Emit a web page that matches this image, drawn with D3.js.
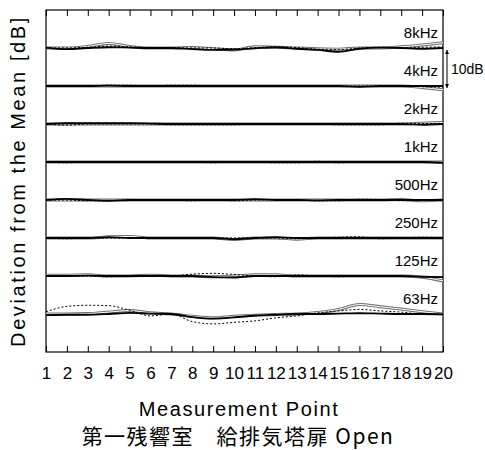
<!DOCTYPE html>
<html>
<head>
<meta charset="utf-8">
<script src="https://cdn.jsdelivr.net/npm/d3@7"></script>
<style>
  body { margin: 0; background: #fff; }
  svg text { font-family: "Liberation Sans", Arial, sans-serif; fill: #000; }
</style>
</head>
<body>
<div id="chart"></div>
<script>
// measurement points (x axis)
const points = [1, 2, 3, 4, 5, 6, 7, 8, 9, 10, 11, 12, 13, 14, 15, 16, 17, 18, 19, 20];

// octave bands, top to bottom, and their offset in dB on the stacked axis
const bands = ["8kHz", "4kHz", "2kHz", "1kHz", "500Hz", "250Hz", "125Hz", "63Hz"];
const bandOffsets = [80, 70, 60, 50, 40, 30, 20, 10];

// deviation from the mean [dB], one row per band
const seriesSolid = [
  [0.1, -0.3, 0, 0.2, 0.1, 0, 0, -0.3, -0.5, -0.4, -0.1, 0.2, -0.2, -0.5, -1.0, -0.2, 0.1, 0, -0.2, 0],
  [0, 0, 0, 0.1, 0, 0, 0, 0, 0, 0, 0, 0, 0, 0, 0, -0.2, 0, 0, 0, 0],
  [0, 0.2, 0.2, 0.2, 0.2, 0.1, 0, 0, 0, 0, 0, 0, 0, 0, 0, 0, 0, 0, -0.2, 0],
  [0, 0, 0, 0, 0, 0, 0, 0, 0, 0, 0, 0, 0, 0, 0, 0, 0, 0, 0, -0.2],
  [0, 0.3, 0, -0.2, 0, 0, 0, 0, 0, 0, 0.2, 0, 0, -0.1, 0, 0, 0, 0, 0, 0],
  [0, 0, 0, 0.2, 0, 0, 0, 0, 0, -0.3, 0, 0.2, 0, 0, 0, 0, 0, 0, 0, 0],
  [0, 0, 0.1, 0, 0, 0, 0, 0, -0.3, -0.4, 0, 0, 0, 0, 0, 0, 0, 0, -0.2, -0.3],
  [-0.3, -0.2, -0.2, 0, 0.3, 0.1, 0, -0.8, -1.2, -0.9, -0.4, -0.2, 0, 0, 0.1, 0.2, 0.1, 0, 0, -0.1]
];
const seriesDotted = [
  [0, 0, 0.2, 0.5, 0.3, 0, 0.1, 0, 0, -0.2, 0.1, 0.3, 0.1, -0.3, -0.4, 0, 0.2, 0, 0.2, 0.3],
  [0, 0, 0, 0.2, 0.2, 0, 0.2, 0.2, 0, -0.1, 0, 0, 0.1, 0, -0.1, 0, 0, 0, -0.2, -0.3],
  [0, -0.3, 0, 0, 0, 0, -0.2, -0.2, -0.2, -0.2, 0, 0, 0, 0, -0.2, -0.2, -0.2, 0.2, 0.1, 0.2],
  [0, -0.2, 0, 0, 0, 0, 0, 0, -0.2, 0, 0, -0.2, -0.2, 0.2, -0.2, 0, 0, 0, 0, -0.3],
  [0, 0, -0.2, -0.2, 0, 0, 0, -0.2, 0, -0.2, 0, 0.1, 0, -0.2, -0.2, 0.2, 0.1, -0.2, 0, 0.1],
  [0, -0.2, 0, 0, 0, 0, 0, 0, 0, 0, 0, 0, -0.2, 0, 0.2, 0.3, -0.2, 0, 0.2, 0],
  [0, 0, 0, -0.2, 0, 0, 0, 0.5, 0.7, 0.4, 0, -0.2, 0.3, 0, -0.2, 0, 0, 0, -0.2, -0.2],
  [0.6, 2.0, 2.3, 2.2, 1.0, -0.5, 0, -2.0, -2.6, -2.2, -1.8, -1.0, -0.5, 0.3, 0.8, 1.2, 0.8, 0.5, 0, 0]
];
const seriesGrey = [
  [0, 0, 0.4, 1.2, 0.4, 0, 0, 0.1, -0.2, -0.5, 0.3, 0.2, 0, -0.2, -0.3, 0, 0, 0.3, 0.8, 1.4],
  [0, 0, 0, 0, 0, 0, 0, 0, 0, 0, 0, 0, 0, 0, 0, 0, 0, 0, -0.4, -1.0],
  [0, 0, 0, 0, 0, 0, 0, 0, 0, 0, 0, 0, 0, 0, 0, 0, 0, 0, 0.2, 0.4],
  [0, 0, 0, 0, 0, 0, 0, 0, 0, 0, 0, 0, 0, 0, 0, 0, 0, 0, 0, 0],
  [0, 0, 0, 0, 0, 0, 0, 0, 0, 0, 0, 0, 0, 0, 0, 0, 0, 0.1, -0.2, 0],
  [0, 0, 0, 0.3, 0.4, 0, 0, 0, 0, -0.4, 0, 0, -0.3, 0, 0, 0, 0, 0, 0, 0],
  [0.2, 0.2, 0.3, 0, 0, 0.2, 0, 0, -0.2, 0, 0.3, 0.3, 0, 0, 0, 0, 0, 0, -0.3, -1.3],
  [0, 0, 0.1, 0.5, 0.9, 0.3, 0, -0.6, -1.0, -0.6, -0.3, -0.1, 0, 0.4, 1.2, 2.5, 1.9, 1.3, 0.6, 0]
];

const scaleBarDb = 10;

const width = 485, height = 450;
const margin = { top: 10, right: 42, bottom: 98, left: 46 };
const innerW = width - margin.left - margin.right;
const innerH = height - margin.top - margin.bottom;

const svg = d3.select("#chart").append("svg")
  .attr("width", width)
  .attr("height", height);

const g = svg.append("g")
  .attr("transform", `translate(${margin.left},${margin.top})`);

const x = d3.scaleLinear().domain([1, 20]).range([0, innerW]);
const y = d3.scaleLinear().domain([0, 90]).range([innerH, 0]);

// axes, ticks pointing inward
const xBottom = g.append("g")
  .attr("transform", `translate(0,${innerH})`)
  .call(d3.axisBottom(x).tickValues(points).tickFormat(d3.format("d")).tickSize(-6).tickPadding(15));
xBottom.select(".domain").remove();
xBottom.selectAll("line").attr("stroke", "#000");
xBottom.selectAll("text")
  .style("font-size", "17px")
  .attr("fill", "#000");

const xTop = g.append("g")
  .call(d3.axisTop(x).tickValues(points).tickFormat("").tickSize(-6));
xTop.select(".domain").remove();
xTop.selectAll("line").attr("stroke", "#000");

g.append("rect")
  .attr("width", innerW)
  .attr("height", innerH)
  .attr("fill", "none")
  .attr("stroke", "#000")
  .attr("stroke-width", 1.2);

const lineFor = (offset) => d3.line()
  .x((d, i) => x(points[i]))
  .y(d => y(offset + d))
  .curve(d3.curveMonotoneX);

const plot = g.append("g");

bands.forEach((band, b) => {
  const line = lineFor(bandOffsets[b]);

  // grey series, drawn as an outlined line
  plot.append("path")
    .attr("d", line(seriesGrey[b]))
    .attr("fill", "none")
    .attr("stroke", "#6e6e6e")
    .attr("stroke-width", 3);
  plot.append("path")
    .attr("d", line(seriesGrey[b]))
    .attr("fill", "none")
    .attr("stroke", "#fff")
    .attr("stroke-width", 1);

  plot.append("path")
    .attr("d", line(seriesSolid[b]))
    .attr("fill", "none")
    .attr("stroke", "#000")
    .attr("stroke-width", 1.8);

  plot.append("path")
    .attr("d", line(seriesDotted[b]))
    .attr("fill", "none")
    .attr("stroke", "#000")
    .attr("stroke-width", 1)
    .attr("stroke-dasharray", "2,2");

  g.append("text")
    .attr("x", innerW - 5)
    .attr("y", y(bandOffsets[b]) - 10)
    .attr("text-anchor", "end")
    .style("font-size", "15px")
    .text(band);
});

// 10 dB scale bar at the right
const barX = innerW + 4;
const barTop = y(bandOffsets[0]) + 2;
const barBot = y(bandOffsets[0] - scaleBarDb) + 2;
svg.append("defs").append("marker")
  .attr("id", "ah")
  .attr("viewBox", "0 0 6 6")
  .attr("refX", 6).attr("refY", 3)
  .attr("markerWidth", 4).attr("markerHeight", 5)
  .attr("orient", "auto-start-reverse")
  .append("path").attr("d", "M0,0L6,3L0,6Z").attr("fill", "#000");
g.append("line")
  .attr("x1", barX).attr("x2", barX)
  .attr("y1", barTop).attr("y2", barBot)
  .attr("stroke", "#000")
  .attr("stroke-width", 1)
  .attr("marker-start", "url(#ah)")
  .attr("marker-end", "url(#ah)");
g.append("text")
  .attr("x", barX + 4)
  .attr("y", (barTop + barBot) / 2 + 5)
  .style("font-size", "14px")
  .text("10dB");

// titles
svg.append("text")
  .attr("transform", `translate(25,${margin.top + innerH / 2}) rotate(-90)`)
  .attr("text-anchor", "middle")
  .style("font-size", "20px")
  .style("letter-spacing", "2.6px")
  .text("Deviation from the Mean [dB]");

svg.append("text")
  .attr("x", 239)
  .attr("y", 416)
  .attr("text-anchor", "middle")
  .style("font-size", "20px")
  .style("letter-spacing", "1.6px")
  .text("Measurement Point");

svg.append("text")
  .attr("x", 238)
  .attr("y", 444)
  .attr("text-anchor", "middle")
  .style("font-family", "'Noto Sans CJK JP', sans-serif")
  .style("font-size", "21px")
  .style("letter-spacing", "1.5px")
  .text("第一残響室　給排気塔扉 Open");
</script>
</body>
</html>
